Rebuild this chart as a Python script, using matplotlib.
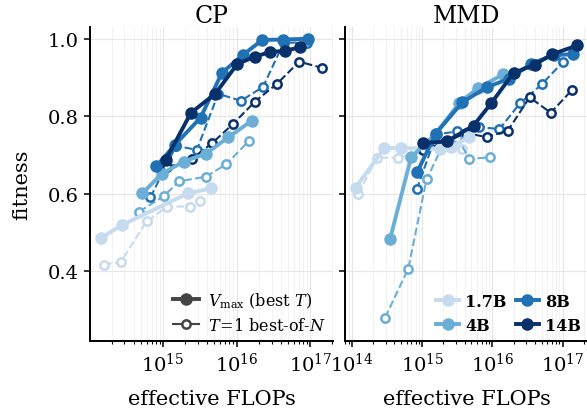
import numpy as np
import matplotlib
matplotlib.use("Agg")
import matplotlib.pyplot as plt
from matplotlib.lines import Line2D

plt.rcParams["font.family"] = "DejaVu Serif"
plt.rcParams["mathtext.fontset"] = "dejavuserif"

sizes = ["1.7B", "4B", "8B", "14B"]
colors = ["#c6dbef", "#6baed6", "#2171b5", "#08306b"]

# CP panel: log10(effective FLOPs) and fitness
cp_best_x = {
    "1.7B": [14.16, 14.44, 15.34, 15.65],
    "4B": [14.72, 14.98, 15.28, 15.58, 15.89, 16.21],
    "8B": [14.91, 15.16, 15.51, 15.80, 16.09, 16.35, 16.63, 16.97],
    "14B": [15.04, 15.38, 15.71, 16.01, 16.25, 16.46, 16.66, 16.86],
}
cp_best_y = {
    "1.7B": [0.486, 0.519, 0.601, 0.614],
    "4B": [0.601, 0.651, 0.683, 0.703, 0.746, 0.789],
    "8B": [0.671, 0.726, 0.796, 0.912, 0.959, 0.997, 0.998, 1.0],
    "14B": [0.688, 0.809, 0.858, 0.935, 0.954, 0.966, 0.969, 0.978],
}
cp_t1_x = {
    "1.7B": [14.20, 14.43, 14.78, 15.06, 15.37, 15.50],
    "4B": [14.68, 15.01, 15.22, 15.58, 15.86, 16.17],
    "8B": [14.83, 15.18, 15.46, 15.75, 16.06, 16.36, 16.64, 16.96],
    "14B": [15.06, 15.39, 15.67, 15.95, 16.25, 16.55, 16.85, 17.16],
}
cp_t1_y = {
    "1.7B": [0.417, 0.425, 0.529, 0.567, 0.567, 0.580],
    "4B": [0.554, 0.594, 0.632, 0.644, 0.676, 0.737],
    "8B": [0.591, 0.724, 0.713, 0.858, 0.840, 0.876, 0.99, 0.99],
    "14B": [0.668, 0.690, 0.731, 0.780, 0.838, 0.884, 0.941, 0.925],
}

# MMD panel
mmd_best_x = {
    "1.7B": [14.05, 14.46, 14.69, 15.25, 15.41, 15.67],
    "4B": [14.54, 14.84, 15.19, 15.53, 15.79, 16.15],
    "8B": [14.93, 15.19, 15.57, 15.92, 16.24, 16.55, 16.87, 17.15],
    "14B": [15.01, 15.35, 15.73, 15.98, 16.30, 16.60, 16.85, 17.21],
}
mmd_best_y = {
    "1.7B": [0.616, 0.718, 0.718, 0.716, 0.721, 0.746],
    "4B": [0.483, 0.694, 0.755, 0.835, 0.872, 0.908],
    "8B": [0.657, 0.755, 0.836, 0.875, 0.897, 0.935, 0.958, 0.960],
    "14B": [0.731, 0.735, 0.776, 0.833, 0.912, 0.933, 0.960, 0.983],
}
mmd_t1_x = {
    "1.7B": [14.09, 14.35, 14.65, 15.26, 15.57],
    "4B": [14.47, 14.80, 15.06, 15.28, 15.50, 15.67, 15.97],
    "8B": [14.92, 15.20, 15.50, 15.81, 16.10, 16.39, 16.70, 17.01],
    "14B": [15.01, 15.33, 15.62, 15.92, 16.22, 16.53, 16.83, 17.13],
}
mmd_t1_y = {
    "1.7B": [0.600, 0.693, 0.693, 0.716, 0.716],
    "4B": [0.280, 0.407, 0.637, 0.720, 0.745, 0.690, 0.694],
    "8B": [0.611, 0.753, 0.761, 0.772, 0.767, 0.833, 0.882, 0.941],
    "14B": [0.714, 0.733, 0.757, 0.746, 0.763, 0.849, 0.809, 0.867],
}

panels = [
    ("CP", cp_best_x, cp_best_y, cp_t1_x, cp_t1_y, (1.02e14, 2.04e17)),
    ("MMD", mmd_best_x, mmd_best_y, mmd_t1_x, mmd_t1_y, (7.9e13, 2.3e17)),
]

fig = plt.figure(figsize=(5.87, 4.14), dpi=100)
ax_l = fig.add_axes([0.1533, 0.174, 0.414, 0.758])
ax_r = fig.add_axes([0.5877, 0.174, 0.414, 0.758], sharey=ax_l)
axes = [ax_l, ax_r]

for ax, (title, bx, by, tx, ty, xlim) in zip(axes, panels):
    for size, c in zip(sizes, colors):
        ax.plot(10 ** np.array(tx[size]), ty[size], ls="--", color=c, lw=1.5,
                marker="o", ms=6, mfc="white", mec=c, mew=1.8, zorder=2)
        ax.plot(10 ** np.array(bx[size]), by[size], ls="-", color=c, lw=2.8,
                marker="o", ms=8, zorder=3)
    ax.set_xscale("log")
    ax.set_xlim(*xlim)
    ax.set_title(title, fontsize=17, pad=3)
    ax.set_xlabel("effective FLOPs", fontsize=15, labelpad=10)
    ax.grid(True, which="major", color="#e6e6e6", lw=0.8)
    ax.grid(True, which="minor", axis="x", color="#f0f0f0", lw=0.6)
    ax.set_axisbelow(True)
    for s in ["top", "right"]:
        ax.spines[s].set_visible(False)
    ax.spines["left"].set_linewidth(1.4)
    ax.spines["bottom"].set_linewidth(1.4)
    ax.tick_params(axis="both", labelsize=14, width=1.1, length=4.5)
    ax.tick_params(axis="x", which="minor", length=2.5, width=0.8)

ax_l.set_ylim(0.22, 1.03)
ax_l.set_yticks([0.4, 0.6, 0.8, 1.0])
ax_l.set_ylabel("fitness", fontsize=15, labelpad=12)
plt.setp(ax_r.get_yticklabels(), visible=False)

gray = "#444444"
style_handles = [
    Line2D([], [], color=gray, lw=2.8, marker="o", ms=8),
    Line2D([], [], color=gray, lw=1.5, marker="o", ms=6, mfc="white", mec=gray, mew=1.8),
]
ax_l.legend(style_handles, [r"$V_{\max}$ (best $T$)", r"$T\!=\!1$ best-of-$N$"],
            loc="lower right", frameon=False, fontsize=11.5, handlelength=1.6,
            borderaxespad=0.05, handletextpad=0.6, labelspacing=0.45)

size_handles = [Line2D([], [], color=c, lw=2.8, marker="o", ms=8) for c in colors]
leg = ax_r.legend(size_handles, sizes, loc="lower right", ncol=2, frameon=False,
                  fontsize=11.5, handlelength=1.4, columnspacing=0.6,
                  handletextpad=0.4, borderaxespad=0.05, labelspacing=0.45)
for t in leg.get_texts():
    t.set_fontweight("bold")

fig.savefig("out.png", dpi=100)
